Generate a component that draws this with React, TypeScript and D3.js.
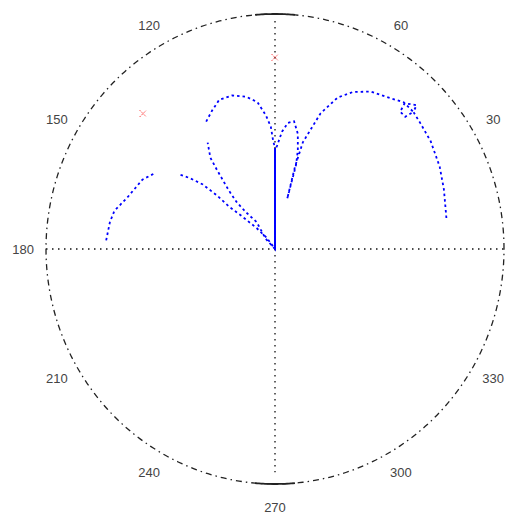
import * as d3 from 'd3'

// blue trace, drawn in order (deg, normalised radius); null = gap in the trace
const traceTheta = [10, 19, 26, 34, 40, 44, 44.7, 47.6, 46.9, 44.7, 44, 48, 53, 58, 63, 67, 71, 75, 76, 76,
  75.6, 76.6, 78.5, 81.3, 84, 86.5, 88.8, 90, 90,
  133, 125, 129, 130, 129, 127, 126, 123, 120, 119, 115, 111, 106, 101, 97, 94, 92, 91, 90, 90,
  127, 132, 136, 138, 138, 139, 141, 143, 146, 149, 153, 161, 167, 171, 178]
const traceR = [0.76, 0.78, 0.80, 0.82, 0.83, 0.84, 0.87, 0.84, 0.80, 0.80, 0.84, 0.84, 0.81, 0.79, 0.75, 0.70, 0.61, 0.47, 0.36, 0.22,
  0.37, 0.43, 0.50, 0.55, 0.54, 0.50, 0.44, 0.42, 0,
  0.06, 0.14, 0.20, 0.26, 0.32, 0.42, 0.48, 0.54, null, 0.62, 0.65, 0.68, 0.68, 0.66, 0.63, 0.57, 0.52, 0.46, 0.43, 0,
  0.06, 0.12, 0.20, 0.27, 0.34, 0.42, 0.48, 0.53, null, 0.62, 0.65, 0.68, 0.72, 0.73, 0.74]

// red markers
const markerTheta = [135, 90]
const markerR = [0.815, 0.815]

// 0 and 90 fall outside the picture in the original
const tickAngles = [30, 60, 120, 150, 180, 210, 240, 270, 300, 330]
const tickLabels = ['30', '60', '120', '150', '180', '210', '240', '270', '300', '330']

const width = 520
const height = 522

export default function App() {
  const x = d3.scaleLinear().domain([-1, 1]).range([46, 504])
  const y = d3.scaleLinear().domain([-1, 1]).range([484, 14])
  const rad = (a: number) => (a * Math.PI) / 180
  const px = (a: number, r: number) => x(r * Math.cos(rad(a)))
  const py = (a: number, r: number) => y(r * Math.sin(rad(a)))

  const ring = d3.line<number>()
    .x(a => px(a, 1))
    .y(a => py(a, 1))
  const outer = ring(d3.range(0, 361, 1)) || ''
  const topArc = ring(d3.range(85, 95.5, 0.5)) || ''
  const botArc = ring(d3.range(265, 275.5, 0.5)) || ''

  const pts = traceTheta.map((a, i) => ({ a, r: traceR[i] }))
  const line = d3.line<{ a: number; r: number | null }>()
    .defined(d => d.r !== null)
    .x(d => px(d.a, d.r as number))
    .y(d => py(d.a, d.r as number))
  const trace = line(pts) || ''

  // the trace runs twice along the 90 deg radius, which prints as a solid stroke
  const radial = pts
    .map((d, i) => ({ d, n: pts[i + 1] }))
    .filter(({ d, n }) => n && d.a === 90 && n.a === 90 && d.r !== null && n.r !== null)
    .map(({ d, n }) => line([d, n]) || '')

  const xMark = d3.symbol(d3.symbolX, 30)() || ''

  return (
    <svg width={width} height={height}
      style={{ position: 'absolute', left: 0, top: 0, background: '#fff' }}>
      <rect width={width} height={height} fill="#fff" />
      <line x1={x(-1)} x2={x(1)} y1={y(0)} y2={y(0)}
        stroke="#111" strokeWidth={1.3} strokeDasharray="1.5,4.5" />
      <line x1={x(0)} x2={x(0)} y1={y(0.97)} y2={y(-0.95)}
        stroke="#111" strokeWidth={1.3} strokeDasharray="1.5,4.5" />
      <path d={outer} fill="none" stroke="#222" strokeWidth={1.3} strokeDasharray="6,4,1.5,4" />
      <path d={topArc} fill="none" stroke="#222" strokeWidth={1.8} />
      <path d={botArc} fill="none" stroke="#222" strokeWidth={1.8} />
      {tickAngles.map((a, i) => (
        <text key={a} x={px(a, 1.1)} y={py(a, 1.1)} textAnchor="middle" dominantBaseline="central"
          fontFamily="Liberation Sans, Arial, sans-serif" fontSize={13} fill="#444">
          {tickLabels[i]}
        </text>
      ))}
      <path d={trace} fill="none" stroke="#0000ff" strokeWidth={1.8} strokeDasharray="2.5,3" />
      {radial.map((d, i) => (
        <path key={i} d={d} fill="none" stroke="#0000ff" strokeWidth={1.8} />
      ))}
      {markerTheta.map((a, i) => (
        <path key={i} d={xMark} transform={`translate(${px(a, markerR[i])},${py(a, markerR[i])})`}
          fill="none" stroke="#ff2020" strokeWidth={1} strokeDasharray="1.5,1.5" />
      ))}
    </svg>
  )
}
